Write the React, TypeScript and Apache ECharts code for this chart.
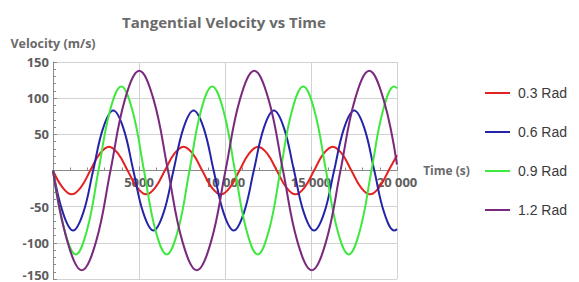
import React, { useEffect, useRef } from "react";
import * as echarts from "echarts";

// Key points (extrema, zero crossings and mid-slope points)
const redTimes = [0, 542, 1084, 1626, 2168, 2711, 3253, 3795, 4337, 4879, 5421, 5963, 6505, 7047, 7590, 8132, 8674, 9216, 9758, 10300, 10842, 11384, 11926, 12468, 13011, 13553, 14095, 14637, 15179, 15721, 16263, 16805, 17347, 17889, 18432, 18974, 19516, 20000];
const redValues = [0, -23, -33, -23, 0, 23, 33, 23, 0, -23, -33, -23, 0, 23, 33, 23, 0, -23, -33, -23, 0, 23, 33, 23, 0, -23, -33, -23, 0, 23, 33, 23, 0, -23, -33, -23, 0, 21];

const blueTimes = [0, 584, 1168, 1751, 2335, 2919, 3503, 4086, 4670, 5254, 5838, 6421, 7005, 7589, 8173, 8756, 9340, 9924, 10508, 11091, 11675, 12259, 12843, 13426, 14010, 14594, 15178, 15761, 16345, 16929, 17513, 18096, 18680, 19264, 19848, 20000];
const blueValues = [0, -59, -83, -59, 0, 59, 83, 59, 0, -59, -83, -59, 0, 59, 83, 59, 0, -59, -83, -59, 0, 59, 83, 59, 0, -59, -83, -59, 0, 59, 83, 59, 0, -59, -83, -81];

const greenTimes = [0, 661, 1323, 1984, 2645, 3306, 3968, 4629, 5290, 5951, 6613, 7274, 7935, 8596, 9258, 9919, 10580, 11241, 11903, 12564, 13225, 13886, 14548, 15209, 15870, 16531, 17193, 17854, 18515, 19176, 19838, 20000];
const greenValues = [0, -82, -116, -82, 0, 82, 116, 82, 0, -82, -116, -82, 0, 82, 116, 82, 0, -82, -116, -82, 0, 82, 116, 82, 0, -82, -116, -82, 0, 82, 116, 114];

const purpleTimes = [0, 836, 1672, 2507, 3343, 4179, 5015, 5850, 6686, 7522, 8358, 9193, 10029, 10865, 11701, 12536, 13372, 14208, 15044, 15879, 16715, 17551, 18387, 19222, 20000];
const purpleValues = [0, -98, -138, -98, 0, 98, 138, 98, 0, -98, -138, -98, 0, 98, 138, 98, 0, -98, -138, -98, 0, 98, 138, 98, 8];

const seriesNames = ["0.3 Rad", "0.6 Rad", "0.9 Rad", "1.2 Rad"];
const seriesColors = ["#e52222", "#2424a8", "#3ee83e", "#7a2a7e"];

const xTickValues = [5000, 10000, 15000, 20000];
const xTickLabels = ["5000", "10 000", "15 000", "20 000"];
const yTickValues = [-150, -100, -50, 50, 100, 150];
const yTickLabels = ["-150", "-100", "-50", "50", "100", "150"];

const titleText = "Tangential Velocity vs Time";
const xAxisName = "Time (s)";
const yAxisName = "Velocity (m/s)";

function pairs(t: number[], v: number[]) {
  return t.map((x, i) => [x, v[i]]);
}

export default function App() {
  const ref = useRef<HTMLDivElement>(null);
  useEffect(() => {
    if (!ref.current) return;
    const chart = echarts.init(ref.current, null, { renderer: "svg" });
    const datasets = [
      pairs(redTimes, redValues),
      pairs(blueTimes, blueValues),
      pairs(greenTimes, greenValues),
      pairs(purpleTimes, purpleValues),
    ];
    const gridColor = "#d2d2d2";
    const axisColor = "#8a8a8a";
    const gridTop = 62;
    const gridBottom = 3;
    const plotHeight = 282 - gridTop - gridBottom;
    const labelFont = { fontFamily: "Open Sans", fontSize: 13, color: "#5e5e5e", fontWeight: "bold" };
    chart.setOption({
      animation: false,
      backgroundColor: "#ffffff",
      graphic: [
        {
          type: "text",
          x: 224,
          y: 22,
          style: {
            text: titleText,
            fontFamily: "Open Sans",
            fontWeight: "bold",
            fontSize: 15,
            fill: "#6a6a6a",
            textAlign: "center",
            textVerticalAlign: "middle",
          },
        },
      ],
      legend: {
        orient: "vertical",
        left: 485,
        top: 85,
        padding: 0,
        icon: "rect",
        itemWidth: 25,
        itemHeight: 2,
        itemGap: 23,
        textStyle: {
          fontFamily: "Liberation Sans",
          fontSize: 14,
          color: "#3a3a3a",
          lineHeight: 16,
          padding: [0, 0, 0, 3],
        },
        data: seriesNames,
      },
      grid: { left: 53, right: 182, top: gridTop, bottom: gridBottom, containLabel: false, outerBoundsMode: "none" },
      xAxis: {
        type: "value",
        min: 0,
        max: 20000,
        interval: 5000,
        offset: -plotHeight / 2,
        name: xAxisName,
        nameLocation: "end",
        nameGap: 16,
        nameTextStyle: { fontFamily: "Open Sans", fontSize: 12, color: "#6a6a6a", fontWeight: "bold" },
        axisLine: { onZero: false, lineStyle: { color: axisColor, width: 1 } },
        axisTick: { show: true, inside: true, length: 4, lineStyle: { color: axisColor } },
        minorTick: { show: true, splitNumber: 5, length: 3, lineStyle: { color: axisColor } },
        axisLabel: {
          margin: 5,
          ...labelFont,
          formatter: (v: number) => {
            const i = xTickValues.indexOf(v);
            return i >= 0 ? xTickLabels[i] : "";
          },
        },
        splitLine: { show: true, lineStyle: { color: gridColor, width: 1 } },
      },
      yAxis: {
        type: "value",
        min: -150,
        max: 150,
        interval: 50,
        name: yAxisName,
        nameLocation: "end",
        nameGap: 12,
        nameTextStyle: { fontFamily: "Open Sans", fontSize: 12.5, color: "#6a6a6a", fontWeight: "bold" },
        axisLine: { show: true, onZero: false, lineStyle: { color: axisColor, width: 1 } },
        axisTick: { show: true, inside: true, length: 4, lineStyle: { color: axisColor } },
        minorTick: { show: true, splitNumber: 5, length: 3, lineStyle: { color: axisColor } },
        axisLabel: {
          margin: 4,
          ...labelFont,
          formatter: (v: number) => {
            const i = yTickValues.indexOf(v);
            if (i < 0) return "";
            return i === 0 ? "{edge|" + yTickLabels[i] + "}" : yTickLabels[i];
          },
          rich: {
            edge: { ...labelFont, padding: [0, 0, 9, 0] },
          },
        },
        splitLine: { show: true, lineStyle: { color: gridColor, width: 1 } },
      },
      series: datasets.map((d, i) => ({
        name: seriesNames[i],
        type: "line",
        data: d,
        smooth: 0.4,
        showSymbol: false,
        symbol: "none",
        lineStyle: { color: seriesColors[i], width: 2 },
        itemStyle: { color: seriesColors[i] },
      })),
    });
    return () => chart.dispose();
  }, []);
  return <div ref={ref} style={{ width: 579, height: 282, position: "fixed", left: 0, top: 0 }} />;
}
